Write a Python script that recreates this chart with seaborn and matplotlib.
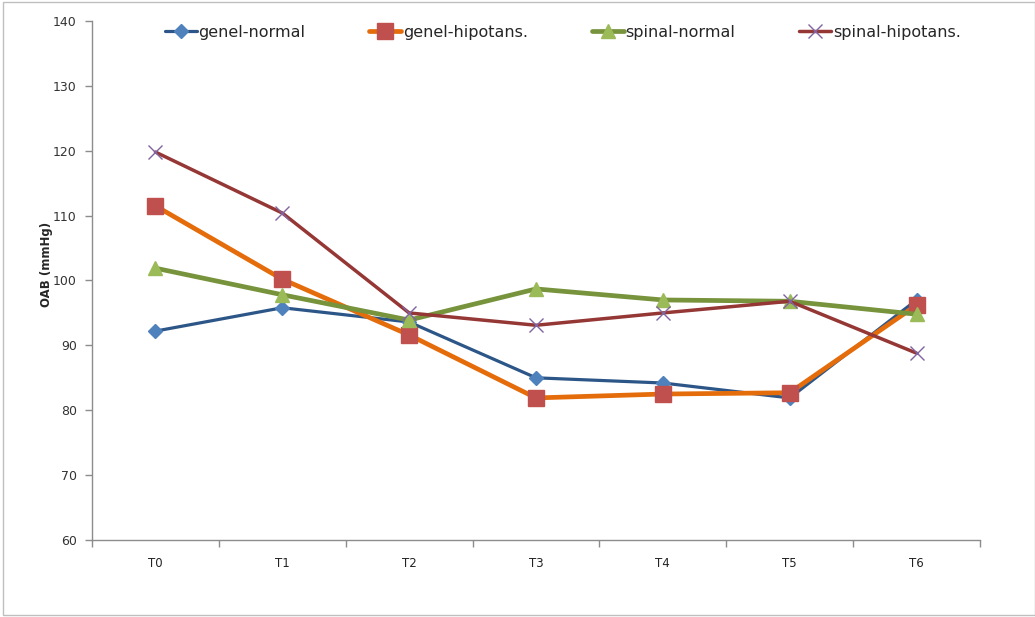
import matplotlib
matplotlib.use("Agg")
import matplotlib.pyplot as plt
from matplotlib.patches import Rectangle
from matplotlib.ticker import FixedLocator, NullFormatter
import seaborn as sns
import pandas as pd

times = ["T0", "T1", "T2", "T3", "T4", "T5", "T6"]
genel_normal = [92.2, 95.8, 93.6, 85.0, 84.2, 81.9, 97.0]
genel_hipotans = [111.5, 100.2, 91.6, 81.9, 82.5, 82.7, 96.2]
spinal_normal = [101.9, 97.8, 93.9, 98.7, 97.0, 96.8, 94.8]
spinal_hipotans = [119.8, 110.4, 95.0, 93.1, 95.0, 96.8, 88.8]
series_names = ["genel-normal", "genel-hipotans.", "spinal-normal", "spinal-hipotans."]

df = pd.DataFrame({
    "t": list(range(len(times))) * 4,
    "value": genel_normal + genel_hipotans + spinal_normal + spinal_hipotans,
    "group": sum([[n] * len(times) for n in series_names], []),
})

styles = {
    "genel-normal": dict(color="#2C5688", lw=2.3, marker="D", ms=7,
                         mfc="#4F81BD", mec="#4F81BD", mew=1),
    "genel-hipotans.": dict(color="#E46C0A", lw=3.4, marker="s", ms=11,
                            mfc="#C0504D", mec="#C0504D", mew=1),
    "spinal-normal": dict(color="#77933C", lw=3.4, marker="^", ms=10,
                          mfc="#9BBB59", mec="#9BBB59", mew=1),
    "spinal-hipotans.": dict(color="#953735", lw=2.5, marker="x", ms=10,
                             mfc="#8064A2", mec="#8064A2", mew=1),
}

sns.set_style("white")
plt.rcParams["font.family"] = ["DejaVu Sans"]

fig = plt.figure(figsize=(10.35, 6.17), dpi=100)
ax = fig.add_axes([92 / 1035, 1 - 540 / 617, 888 / 1035, 519 / 617])

for name in series_names:
    s = styles[name]
    sub = df[df["group"] == name]
    sns.lineplot(data=sub, x="t", y="value", ax=ax, color=s["color"],
                 linewidth=s["lw"], marker=s["marker"], markersize=s["ms"],
                 markerfacecolor=s["mfc"], markeredgecolor=s["mec"],
                 markeredgewidth=s["mew"], label=name, zorder=3)

ax.set_xlim(-0.5, len(times) - 0.5)
ax.set_ylim(60, 140)
ax.set_yticks(range(60, 141, 10))
ax.set_xticks(range(len(times)))
ax.set_xticklabels(times)
ax.xaxis.set_minor_locator(FixedLocator([i - 0.5 for i in range(len(times) + 1)]))
ax.xaxis.set_minor_formatter(NullFormatter())
ax.tick_params(axis="x", which="major", length=0, pad=12, labelsize=8.5,
               labelcolor="#222222")
ax.tick_params(axis="x", which="minor", length=5, width=1, color="#8C8C8C",
               direction="out", bottom=True)
ax.tick_params(axis="y", length=5, width=1, color="#8C8C8C", direction="out",
               left=True, labelsize=9, labelcolor="#333333", pad=6)

for side in ["top", "right"]:
    ax.spines[side].set_visible(False)
for side in ["left", "bottom"]:
    ax.spines[side].set_color("#8C8C8C")
    ax.spines[side].set_linewidth(1)

ax.set_xlabel("")
ax.set_ylabel("OAB (mmHg)", fontsize=8.5, fontweight="bold")
ax.yaxis.set_label_coords(-0.044, 0.53)

leg = ax.legend(loc="upper left", bbox_to_anchor=(0.066, 1.02), ncol=4,
                frameon=False, handlelength=2.0, handletextpad=0.1,
                columnspacing=4.0, prop={"size": 11.5})

fig.patches.append(Rectangle((3 / 1035, 2 / 617), 1 - 3 / 1035, 1 - 4 / 617,
                             transform=fig.transFigure, fill=False,
                             edgecolor="#BFBFBF", linewidth=1))

fig.savefig("out.png", dpi=100)
